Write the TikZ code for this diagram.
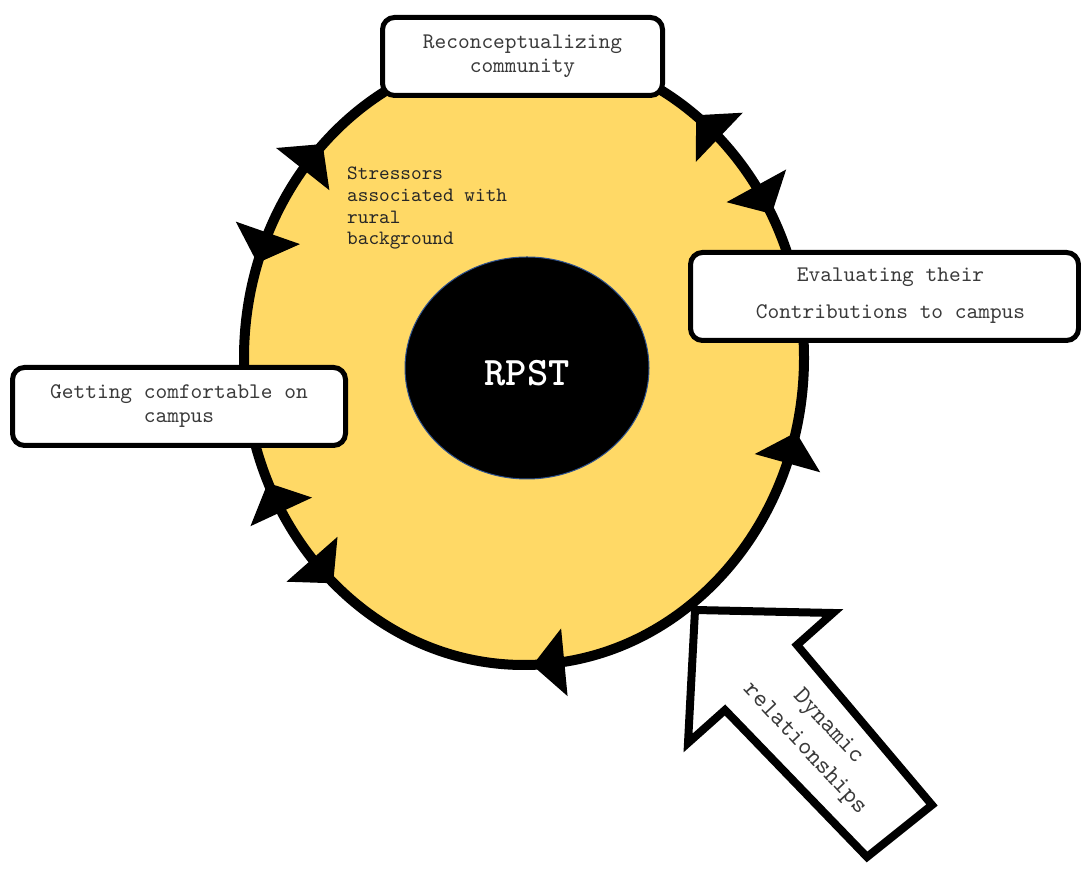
\documentclass[tikz,border=0pt]{standalone}
\usepackage{fontspec}
\newfontfamily\cour{lmmono10-regular.otf}[BoldFont=lmmonolt10-bold.otf]
\usetikzlibrary{shapes.geometric}
\definecolor{gold}{HTML}{FFD966}
\definecolor{inkgray}{HTML}{3A3A3A}
\definecolor{rimblue}{HTML}{2F528F}

\begin{document}
\begin{tikzpicture}[x=1pt,y=1pt,
  stage/.style={draw=black, line width=5, rounded corners=12, fill=white,
    align=center, text=inkgray, inner sep=0},
  stagefont/.style={font=\cour\fontsize{22.3}{24}\selectfont},
  cycletri/.pic={\fill[black] (16,0) -- (-16,34) -- (-16,-34) -- cycle;}
]
\useasboundingbox (0,0) rectangle (1081,869);

% yellow cycle ring
\node[ellipse, draw=black, line width=10, fill=gold,
      minimum width=560, minimum height=614, inner sep=0] (ring) at (524,511) {};

% arrowheads along the ring (parameter angle / sense of travel)
\foreach \t/\s in {139/-1, 159/1, 49/1, 31/-1, -17/1, 207/-1, 224/1, 275/-1}{
  \pgfmathsetmacro\px{524+280*cos(\t)}
  \pgfmathsetmacro\py{511+307*sin(\t)}
  \pgfmathsetmacro\ang{atan2(\s*307*cos(\t), \s*(-280)*sin(\t))}
  \pic[rotate=\ang] at (\px,\py) {cycletri};
}

% core
\node[ellipse, fill=black, draw=rimblue, line width=1,
      minimum width=244, minimum height=222, inner sep=0] (core) at (527,501) {};
\node[text=white, font=\cour\bfseries\fontsize{40.5}{40.5}\selectfont] (rpst) at (527,496) {RPST};

% inner note
\node[anchor=north west, align=left, text=black!85, inner sep=0,
      font=\cour\fontsize{20.3}{21.7}\selectfont] (stress) at (347,702)
  {Stressors\\associated with\\rural\\background};

% stage boxes
\node[stage, stagefont, minimum width=280, minimum height=78] (recon) at (522.5,812.5)
  {Reconceptualizing\\community};
\node[stage, minimum width=388, minimum height=88] (eval) at (884.5,572.5) {};
\node[align=center, text=inkgray, inner sep=0,
      font=\cour\fontsize{22.3}{37}\selectfont] (evaltext) at (890.5,573)
  {Evaluating their\\Contributions to campus};
\node[stage, stagefont, minimum width=333, minimum height=78] (comfort) at (179,462.5)
  {Getting comfortable on\\campus};

% incoming block arrow
\draw[line width=8, fill=white, line join=miter]
  (695,259) coordinate (tip) -- (833,256) -- (797,224) -- (932,64) -- (867,12)
  -- (725,159) -- (688,126) -- cycle;
\node[rotate=-47, align=center, text=inkgray,
      font=\cour\fontsize{25}{32}\selectfont] (dyn) at (816,131)
  {Dynamic\\relationships};
\end{tikzpicture}
\end{document}
